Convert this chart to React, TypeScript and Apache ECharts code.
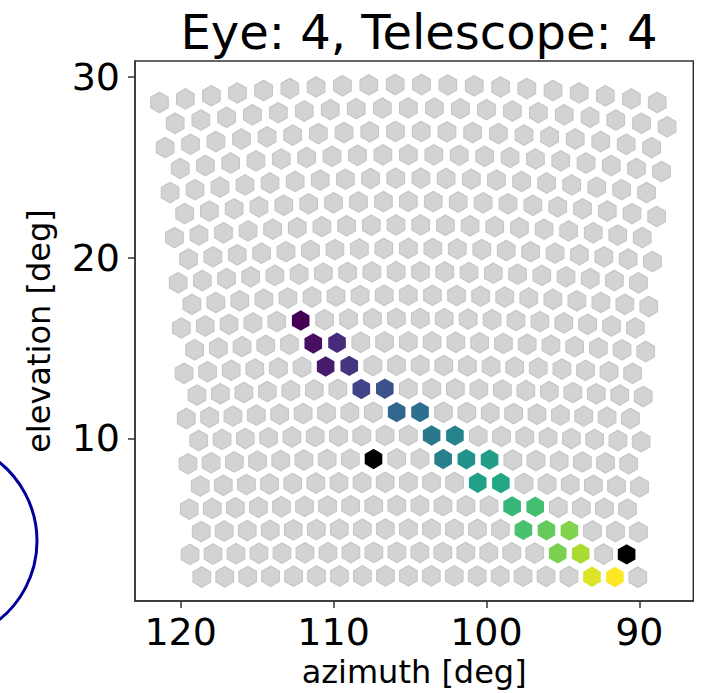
import React, { useEffect, useRef } from "react";
import * as echarts from "echarts";

// ---- texts & axes ----
const TITLE = "Eye: 4, Telescope: 4";
const X_LABEL = "azimuth [deg]";
const Y_LABEL = "elevation [deg]";
const X_TICKS = [90, 100, 110, 120];
const Y_TICKS = [10, 20, 30];
const X_RANGE = [86.47, 122.99];
const Y_RANGE = [0.98, 30.9];

// ---- camera layout (22 rows x 20 columns), angles in degrees ----
const CAMERA_AZIMUTH = 105.11;
const ROW_ELEVATIONS = [
  2.38, 3.68, 4.97, 6.27, 7.56, 8.86, 10.16, 11.45, 12.75, 14.04, 15.34,
  16.64, 17.93, 19.23, 20.52, 21.82, 23.12, 24.41, 25.71, 27.0, 28.3, 29.6,
];
const ROW_OFFSETS = [
  -0.75, 0, -0.75, 0, -0.75, 0, -0.75, 0, -0.75, 0, -0.75, 0, -0.75, 0, -0.75,
  0, -0.75, 0, -0.75, 0, -0.75, 0,
];
const COLUMN_ANGLES = [
  14.25, 12.75, 11.25, 9.75, 8.25, 6.75, 5.25, 3.75, 2.25, 0.75, -0.75, -2.25,
  -3.75, -5.25, -6.75, -8.25, -9.75, -11.25, -12.75, -14.25,
];

// ---- triggered pixels: [row, column, relative time] ----
const HIT_PIXELS: [number, number, number][] = [
  [11, 5, 0.0],
  [10, 5, 0.04],
  [9, 6, 0.07],
  [10, 6, 0.12],
  [9, 7, 0.15],
  [8, 7, 0.2],
  [8, 8, 0.25],
  [7, 9, 0.33],
  [7, 10, 0.36],
  [6, 10, 0.4],
  [5, 11, 0.43],
  [6, 11, 0.44],
  [5, 12, 0.5],
  [5, 13, 0.55],
  [4, 12, 0.56],
  [4, 13, 0.6],
  [3, 14, 0.66],
  [3, 15, 0.7],
  [2, 14, 0.71],
  [2, 15, 0.76],
  [1, 16, 0.8],
  [2, 16, 0.81],
  [1, 17, 0.87],
  [0, 17, 0.95],
  [0, 18, 1.0],
];
// ---- pixels drawn in black: [row, column] ----
const BLACK_PIXELS: [number, number][] = [
  [5, 8],
  [1, 19],
];

const VIRIDIS = [
  "#440154", "#482475", "#414487", "#355f8d", "#2a788e", "#21918c",
  "#22a884", "#44bf70", "#7ad151", "#bddf26", "#fde725",
];

const FONT = "DejaVu Sans";
const HEX = "path://M0,-10 L8.66,-5 L8.66,5 L0,10 L-8.66,5 L-8.66,-5 Z";

function project(row: number, col: number): [number, number] {
  const d = Math.PI / 180;
  const E = ROW_ELEVATIONS[row] * d;
  const phi = (COLUMN_ANGLES[col] + ROW_OFFSETS[row]) * d;
  const el = Math.asin(Math.cos(phi) * Math.sin(E)) / d;
  const az =
    CAMERA_AZIMUTH +
    Math.atan2(Math.sin(phi), Math.cos(phi) * Math.cos(E)) / d;
  return [az, el];
}

export default function App() {
  const ref = useRef<HTMLDivElement>(null);

  useEffect(() => {
    document.body.style.margin = "0";
    if (!ref.current) return;
    const chart = echarts.init(ref.current, undefined, { renderer: "svg" });

    const special = new Set<string>();
    HIT_PIXELS.forEach(([r, c]) => special.add(r + ":" + c));
    BLACK_PIXELS.forEach(([r, c]) => special.add(r + ":" + c));

    const grey: number[][] = [];
    for (let r = 0; r < ROW_ELEVATIONS.length; r++) {
      for (let c = 0; c < COLUMN_ANGLES.length; c++) {
        if (!special.has(r + ":" + c)) grey.push(project(r, c));
      }
    }
    const hits = HIT_PIXELS.map(([r, c, v]) => [...project(r, c), v]);
    const blacks = BLACK_PIXELS.map(([r, c]) => project(r, c));

    const axisCommon = {
      type: "value" as const,
      nameLocation: "middle" as const,
      nameTextStyle: { fontFamily: FONT, fontSize: 32, color: "#000" },
      splitLine: { show: false },
      axisLine: { show: true, lineStyle: { color: "#333", width: 1.5 } },
      axisTick: {
        show: true,
        inside: false,
        length: 7,
        lineStyle: { color: "#333", width: 1.5 },
      },
    };

    chart.setOption({
      animation: false,
      title: {
        text: TITLE,
        left: 414,
        top: 3,
        textAlign: "center",
        textStyle: {
          fontFamily: FONT,
          fontSize: 48,
          fontWeight: "normal",
          color: "#000",
        },
      },
      grid: {
        left: 135,
        right: 8.7,
        top: 61,
        bottom: 88,
        show: true,
        borderColor: "#333",
        borderWidth: 1.5,
        backgroundColor: "#fff",
      },
      xAxis: {
        ...axisCommon,
        name: X_LABEL,
        nameGap: 50,
        inverse: true,
        min: X_RANGE[0],
        max: X_RANGE[1],
        axisTick: { ...axisCommon.axisTick, customValues: X_TICKS },
        axisLabel: {
          customValues: X_TICKS,
          fontFamily: FONT,
          fontSize: 38,
          color: "#000",
          margin: 12,
        },
      },
      yAxis: {
        ...axisCommon,
        name: Y_LABEL,
        nameGap: 80,
        nameRotate: 90,
        min: Y_RANGE[0],
        max: Y_RANGE[1],
        axisTick: { ...axisCommon.axisTick, customValues: Y_TICKS },
        axisLabel: {
          customValues: Y_TICKS,
          fontFamily: FONT,
          fontSize: 38,
          color: "#000",
          margin: 15,
        },
      },
      visualMap: {
        show: false,
        seriesIndex: 1,
        dimension: 2,
        min: 0,
        max: 1,
        inRange: { color: VIRIDIS },
      },
      series: [
        {
          type: "scatter",
          data: grey,
          symbol: HEX,
          symbolSize: [17.6, 20.4],
          silent: true,
          itemStyle: {
            color: "#d3d3d3",
            borderColor: "#c6c6c6",
            borderWidth: 1.2,
            opacity: 1,
          },
        },
        {
          type: "scatter",
          data: hits,
          symbol: HEX,
          symbolSize: [17.6, 20.4],
          silent: true,
          itemStyle: { borderWidth: 0, opacity: 1 },
        },
        {
          type: "scatter",
          data: blacks,
          symbol: HEX,
          symbolSize: [17.6, 20.4],
          silent: true,
          itemStyle: { color: "#000", borderWidth: 0, opacity: 1 },
        },
      ],
      graphic: [
        {
          type: "circle",
          shape: { cx: -64, cy: 541, r: 101 },
          style: { fill: "none", stroke: "#00009c", lineWidth: 3 },
          silent: true,
        },
      ],
    });

    return () => chart.dispose();
  }, []);

  return <div ref={ref} style={{ width: 702, height: 693 }} />;
}
